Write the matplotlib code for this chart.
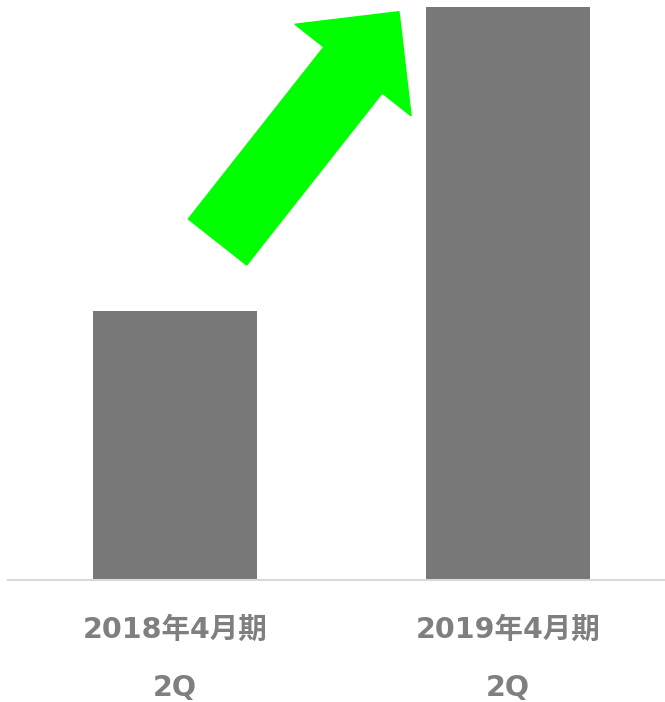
import matplotlib
matplotlib.use("Agg")
import matplotlib.pyplot as plt
from matplotlib.patches import FancyArrow

# データ
periods = ["2018年4月期", "2019年4月期"]
quarters = ["2Q", "2Q"]
values = [46.9, 100.0]

plt.rcParams['font.family'] = ['DejaVu Sans', 'Noto Sans CJK JP']

fig = plt.figure(figsize=(6.65, 7.02), dpi=100)
ax = fig.add_axes([8 / 665, 122 / 702, 656 / 665, 580 / 702])

x = list(range(len(values)))
ax.bar(x, values, width=0.4925, color='#787878', zorder=2)

ax.set_xlim(-0.5015, 1.4685)
ax.set_ylim(0, 101.2)

# 軸の装飾
for side in ['top', 'right', 'left']:
    ax.spines[side].set_visible(False)
ax.spines['bottom'].set_color('#d9d9d9')
ax.spines['bottom'].set_linewidth(1.5)
ax.set_yticks([])
ax.set_xticks([])

# ラベル (2行)
label_style = dict(fontsize=20.5, fontweight='bold', color='#7f7f7f',
                   ha='center', va='center', xycoords=('data', 'axes fraction'),
                   textcoords='offset points', annotation_clip=False)
for xi, p, q in zip(x, periods, quarters):
    ax.annotate(p, xy=(xi, 0), xytext=(0, -36), **label_style)
    ax.annotate(q, xy=(xi, 0), xytext=(0, -77.5), **label_style)

# 上昇矢印 (インチ単位で描画)
arrow = FancyArrow(2.175, 4.60, 1.815, 2.303, width=0.743, head_width=1.479,
                   head_length=0.743, length_includes_head=True,
                   color='#00ff00', transform=fig.dpi_scale_trans, zorder=3)
fig.patches.append(arrow)

fig.savefig('out.png', dpi=100)
